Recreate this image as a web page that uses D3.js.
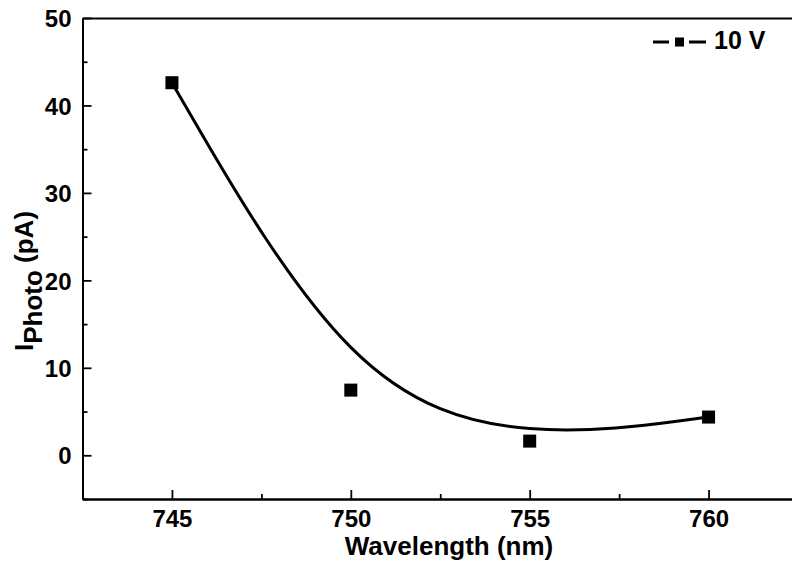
<!DOCTYPE html>
<html>
<head>
<meta charset="utf-8">
<script src="https://cdn.jsdelivr.net/npm/d3@7"></script>
<style>
  body { margin: 0; background: #fff; }
  svg { font-family: Arial, "Liberation Sans", sans-serif; font-weight: bold; }
</style>
</head>
<body>
<div id="chart"></div>
<script>
// measured photocurrent at 10 V bias
const wavelength = [745, 750, 755, 760]
const current = [42.6, 7.45, 1.62, 4.37]
const xTicks = [745, 750, 755, 760]
const xMinor = [742.5, 747.5, 752.5, 757.5, 762.5]
const yTicks = [0, 10, 20, 30, 40, 50]
const yMinor = [-5, 5, 15, 25, 35, 45]
const seriesName = '10 V'

const points = wavelength.map((w, i) => ({ w: w, v: current[i] }))

const W = 792
const H = 567

const svg = d3.select('#chart').append('svg').attr('width', W).attr('height', H)

const x = d3.scaleLinear([742.5, 762.5], [82.5, 798])
const y = d3.scaleLinear([-5, 50], [499, 18])

// bottom axis, ticks point inward
const gx = svg.append('g').attr('transform', `translate(0,${y(-5)})`)
  .call(d3.axisBottom(x).tickValues(xTicks).tickSizeInner(-9).tickSizeOuter(0).tickFormat(d3.format('d')))
gx.selectAll('text').attr('dy', null).attr('y', 28).style('font-size', '24px')
svg.append('g').attr('transform', `translate(0,${y(-5)})`)
  .call(d3.axisBottom(x).tickValues(xMinor).tickSizeInner(-5).tickSizeOuter(0).tickFormat(''))

// left axis
const gy = svg.append('g').attr('transform', `translate(${x(742.5)},0)`)
  .call(d3.axisLeft(y).tickValues(yTicks).tickSizeInner(-9).tickSizeOuter(0))
gy.selectAll('text').attr('x', -11).attr('dy', '0.36em').style('font-size', '24px')
svg.append('g').attr('transform', `translate(${x(742.5)},0)`)
  .call(d3.axisLeft(y).tickValues(yMinor).tickSizeInner(-5).tickSizeOuter(0).tickFormat(''))

// top frame line
svg.append('g').attr('transform', `translate(0,${y(50)})`)
  .call(d3.axisTop(x).tickValues([]).tickSizeOuter(0))

svg.selectAll('.domain, .tick line').attr('stroke', '#000').attr('stroke-width', 1.8)

// B-spline through the points
const line = d3.line().x((d) => x(d.w)).y((d) => y(d.v)).curve(d3.curveBasis)
svg.append('path').datum(points)
  .attr('d', line)
  .attr('fill', 'none')
  .attr('stroke', '#000')
  .attr('stroke-width', 3)

svg.selectAll('rect.pt').data(points).enter().append('rect')
  .attr('class', 'pt')
  .attr('x', (d) => x(d.w) - 6.5)
  .attr('y', (d) => y(d.v) - 6.5)
  .attr('width', 13)
  .attr('height', 13)
  .attr('fill', '#000')

// legend
const lg = svg.append('g').attr('transform', 'translate(653,42)')
lg.append('line').attr('x1', 0).attr('x2', 16).attr('stroke', '#000').attr('stroke-width', 3)
lg.append('line').attr('x1', 36).attr('x2', 53).attr('stroke', '#000').attr('stroke-width', 3)
lg.append('rect').attr('x', 22).attr('y', -4.5).attr('width', 9).attr('height', 9).attr('fill', '#000')
lg.append('text').attr('x', 61).attr('y', 6.5).style('font-size', '25px').text(seriesName)

// axis titles
svg.append('text')
  .attr('x', 449).attr('y', 555)
  .attr('text-anchor', 'middle')
  .style('font-size', '26px')
  .text('Wavelength (nm)')

const yl = svg.append('text')
  .attr('transform', 'translate(33,281) rotate(-90)')
  .attr('text-anchor', 'middle')
  .style('font-size', '26px')
yl.append('tspan').text('I')
yl.append('tspan').attr('dy', 9).text('Photo')
yl.append('tspan').attr('dy', -9).text(' (pA)')
</script>
</body>
</html>
